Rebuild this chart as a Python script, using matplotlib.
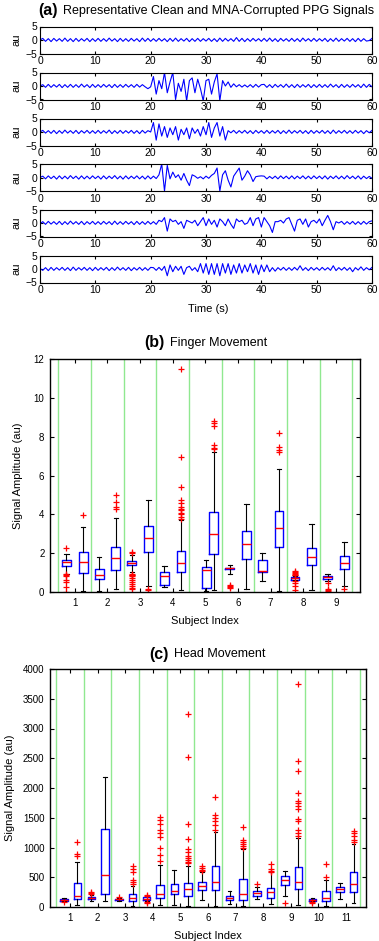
import numpy as np
import matplotlib
matplotlib.use("Agg")
from matplotlib import pyplot as plt

plt.rcParams["font.family"] = ["Liberation Sans", "DejaVu Sans"]

W, H = 379, 941

# (a) PPG traces, one reading every 0.5 s from 0 to 60 s
time_s = np.arange(0, 60.5, 0.5)

ppg_clean = [0.0,
    0.6, -0.5, 0.5, -0.6, 0.6, -0.4, 0.5, -0.5, 0.7, -0.5, 0.5, -0.6, 0.6, -0.5, 0.5, -0.4, 0.6, -0.6, 0.5, -0.5,
    0.6, -0.5, 0.5, -0.5, 0.7, -0.4, 0.5, -0.6, 0.6, -0.5, 0.5, -0.5, 0.6, -0.4, 0.5, -0.6, 0.7, -0.5, 0.6, -0.5,
    0.5, -0.5, 0.6, -0.4, 0.5, -0.6, 0.6, -0.5, 0.7, -0.5, 0.5, -0.4, 0.6, -0.6, 0.5, -0.5, 0.6, -0.5, 0.5, -0.4,
    0.6, -0.5, 0.5, -0.6, 0.7, -0.5, 0.6, -0.4, 0.5, -0.5, 0.9, -0.5, 0.6, -0.6, 0.5, -0.5, 0.6, -0.4, 0.5, -0.5,
    0.6, -0.5, 0.7, -0.5, 0.5, -0.6, 0.6, -0.4, 0.5, -0.5, 0.6, -0.5, 0.5, -0.6, 0.7, -0.4, 0.5, -0.5, 0.6, -0.5,
    0.5, -0.4, 0.6, -0.6, 0.5, -0.5, 0.7, -0.5, 0.5, -0.4, 0.6, -0.5, 0.5, -0.6, 0.6, -0.5, 0.5, -0.4, -0.2, 0.6]

ppg_mna1 = [0.0,
    0.5, -0.5, 0.6, -0.5, 0.5, -0.4, 0.6, -0.6, 0.5, -0.5, 0.6, -0.5, 0.5, -0.5, 0.7, -0.4, 0.5, -0.6, 0.6, -0.5,
    0.5, -0.5, 0.6, -0.4, 0.5, -0.6, 0.6, -0.5, 0.5, -0.5, 0.6, -0.4, 0.5, -0.5, 0.6, -0.4, 0.5, -0.3, -1.0, -0.3,
    3.5, -3.0, 2.0, -1.0, 5.0, -2.5, 1.5, 5.0, -5.0, 1.0, -2.0, 2.5, -5.5, 2.0, 3.0, -2.5, 2.5, -1.0, -5.5, 2.0,
    2.5, -3.0, 1.5, 4.5, -5.5, 2.0, 0.0, 1.5, -0.5, 0.8, -0.3, 0.5, -0.4, 0.4, -0.4, 0.5, -0.5, 0.6, -0.4, 0.5,
    0.6, -0.5, 0.5, -0.6, 0.6, -0.4, 0.5, -0.5, 0.7, -0.5, 0.5, -0.6, 0.6, -0.5, 0.5, -0.4, 0.6, -0.6, 0.5, -0.5,
    0.6, -0.5, 0.5, -0.5, 0.7, -0.4, 0.5, -0.6, 0.6, -0.5, 0.5, -0.5, 0.6, -0.4, 0.5, -0.6, 0.7, -0.5, 0.6, -0.3]

ppg_mna2 = [0.0,
    0.6, -0.4, 0.5, -0.5, 0.6, -0.6, 0.5, -0.5, 0.7, -0.4, 0.5, -0.5, 0.6, -0.6, 0.5, -0.4, 0.6, -0.5, 0.5, -0.5,
    0.6, -0.5, 0.5, -0.4, 0.7, -0.6, 0.5, -0.5, 0.6, -0.5, 0.5, -0.4, 0.6, -0.5, 0.5, -0.6, 0.6, -0.4, 0.5, 0.0,
    3.5, -3.0, 3.0, -1.5, 2.0, -2.0, 1.5, -1.0, 2.0, -3.0, 1.0, -1.0, 1.5, -2.5, 1.5, -0.5, 1.0, -1.5, 2.0, -1.0,
    3.5, -2.0, 1.5, 3.5, -1.5, 2.0, -3.0, 0.5, -0.3, 0.6, -0.5, 0.5, -0.4, 0.6, -0.5, 0.5, -0.6, 0.6, -0.4, 0.5,
    -0.5, 0.6, -0.5, 0.5, -0.4, 0.6, -0.6, 0.5, -0.5, 0.7, -0.5, 0.5, -0.4, 0.6, -0.5, 0.5, -0.6, 0.6, -0.5, 0.5,
    -0.4, 0.6, -0.5, 0.5, -0.6, 0.7, -0.5, 0.5, -0.4, 0.6, -0.5, 0.5, -0.5, 0.6, -0.4, 0.5, -0.6, 0.5, -0.3, 0.6]

ppg_mna3 = [0.0,
    0.5, -0.5, 0.6, -0.4, 0.5, -0.6, 0.6, -0.5, 0.5, -0.5, 0.7, -0.4, 0.5, -0.6, 0.6, -0.5, 0.5, -0.5, 0.6, -0.4,
    0.5, -0.6, 0.6, -0.5, 0.5, -0.4, 0.7, -0.5, 0.5, -0.6, 0.6, -0.5, 0.5, -0.4, 0.6, -0.5, 0.5, -0.6, 0.6, -0.5,
    0.5, -0.4, 1.0, 5.0, -5.0, 4.5, -0.5, 2.0, 0.0, 1.0, -1.0, 1.5, -1.0, -3.0, 1.0, 0.5, -0.3, 0.3, -0.5, 0.5,
    -0.3, 0.8, 1.5, 3.5, -5.0, 1.0, 2.5, -1.0, -3.5, 0.5, 2.0, 3.5, -1.0, 0.5, 2.5, 1.0, -1.5, 0.3, 0.5, 0.6,
    0.5, -0.5, 0.4, -0.4, 0.5, -0.5, 0.6, -0.4, 0.5, -0.5, 0.6, -0.5, 0.5, -0.4, 0.6, -0.5, 0.5, -0.5, 0.6, -0.4,
    0.5, -0.5, 0.6, -0.6, 0.5, -0.4, 0.6, -0.5, 0.5, -0.5, 0.7, -0.4, 0.5, -0.5, 0.6, -0.6, 0.5, -0.4, 0.4, -0.3]

ppg_mna4 = [-0.3,
    0.5, -0.5, 0.6, -0.4, 0.5, -0.5, 0.6, -0.6, 0.5, -0.5, 0.7, -0.4, 0.5, -0.5, 0.6, -0.6, 0.5, -0.4, 0.6, -0.5,
    0.5, -0.5, 0.6, -0.4, 0.5, -0.6, 0.7, -0.5, 0.5, -0.5, 0.6, -0.4, 0.5, -0.6, 0.6, -0.5, 0.5, -0.5, 0.6, -0.4,
    0.5, -0.5, 1.0, 0.5, 2.0, -3.0, 1.5, 0.5, 1.0, -0.5, 0.5, -2.0, 1.0, 0.5, 0.0, 1.0, -1.0, 0.5, 2.0, -1.0,
    1.5, -0.5, 1.0, -1.5, 1.5, 0.5, -1.0, 1.5, -0.5, -2.0, 1.5, 0.5, 1.0, -0.5, 0.0, 2.0, -1.0, 1.5, 2.0, -1.5,
    2.0, 0.5, -1.0, -3.5, 0.5, 0.5, 1.0, 0.0, 1.5, 2.0, -0.5, -3.0, 1.0, 1.5, -0.5, 1.5, -1.5, 0.5, 1.0, 0.0,
    1.5, -1.0, 1.0, 2.8, 0.5, -2.5, 0.5, 0.0, 0.6, -0.5, 0.5, -0.4, 0.6, -0.5, 0.5, -0.5, 0.6, -0.4, 0.5, 0.8]

ppg_mna5 = [0.2,
    -0.5, 0.5, -0.6, 0.6, -0.5, 0.5, -0.4, 0.6, -0.5, 0.5, -0.6, 0.7, -0.5, 0.5, -0.4, 0.6, -0.5, 0.5, -0.6, 0.6,
    -0.5, 0.5, -0.4, 0.6, -0.6, 0.5, -0.5, 0.7, -0.4, 0.5, -0.5, 0.6, -0.6, 0.5, -0.4, 0.6, -0.5, 0.5, -0.5, 0.6,
    0.5, -0.5, 0.6, -0.5, 1.0, -2.5, 1.5, -1.0, 1.0, -0.5, 1.0, -2.0, 0.5, 1.0, -0.5, 0.5, -1.0, 2.0, -1.5, 2.0,
    -2.0, 2.0, -2.0, 2.0, -2.5, 2.0, -1.5, 2.0, -2.0, 1.5, -1.5, 2.0, -1.5, 1.5, -1.0, 2.0, -1.5, 1.5, -2.0, 1.5,
    -1.0, 1.5, -1.0, 0.5, -0.8, 0.5, -0.4, 0.6, -0.5, 0.5, -0.5, 0.6, -0.4, 1.2, -0.5, 0.5, -0.6, 0.6, -0.4, 0.5,
    -0.5, 0.6, -0.4, 0.5, -0.5, 1.2, -0.6, 0.5, -0.4, 0.6, -0.5, 0.5, -1.0, 0.5, -0.4, 0.8, -0.5, 0.5, -0.3, 0.6]

ppg_traces = [ppg_clean, ppg_mna1, ppg_mna2, ppg_mna3, ppg_mna4, ppg_mna5]

# (b) finger movement, two boxes per subject (A, B)
finger_subjects = list(range(1, 10))
finger_lo = [0.95, 0.05, 0.03, 0.15, 1.05, 0.3, 0.25, 0.1, 0.03, 0.1,
             0.95, 0.15, 0.55, 0.05, 0.6, 0.1, 0.55, 0.3]
finger_q1 = [1.36, 0.97, 0.67, 1.13, 1.38, 2.08, 0.35, 1.02, 0.23, 1.97,
             1.17, 1.7, 1.05, 2.3, 0.63, 1.38, 0.68, 1.2]
finger_med = [1.53, 1.55, 0.86, 1.75, 1.47, 2.78, 0.83, 1.5, 1.13, 3.0,
              1.22, 2.45, 1.08, 3.3, 0.7, 1.82, 0.75, 1.5]
finger_q3 = [1.67, 2.05, 1.17, 2.3, 1.58, 3.38, 1.05, 2.1, 1.28, 4.1,
             1.25, 3.12, 1.63, 4.15, 0.77, 2.27, 0.8, 1.83]
finger_hi = [1.96, 3.33, 1.78, 3.82, 1.92, 4.75, 1.35, 3.7, 1.67, 7.2,
             1.4, 4.55, 2.03, 6.33, 0.8, 3.5, 0.93, 2.55]
finger_fliers = [
    [2.25, 0.93, 0.85, 0.8, 0.6, 0.5, 0.25, 0.0], [3.97],
    [], [4.25, 4.4, 4.65, 5.0],
    [2.0, 2.08, 0.95, 0.9, 0.85, 0.8, 0.7, 0.6, 0.5, 0.4, 0.3, 0.2, 0.15], [0.1, 0.15],
    [], [3.75, 3.85, 4.0, 4.05, 4.2, 4.3, 4.4, 4.6, 4.75, 5.4, 6.95, 11.5],
    [], [7.35, 7.43, 7.57, 8.53, 8.69, 8.79],
    [0.2, 0.25, 0.3, 0.35], [],
    [], [7.23, 7.31, 7.48, 8.19],
    [0.85, 0.9, 0.95, 1.0, 1.05, 1.1, 0.55, 0.45, 0.3, 0.1], [],
    [0.45, 0.15, 0.1, 0.05], [0.15]]

# (c) head movement
head_subjects = list(range(1, 12))
head_lo = [95, 28, 100, 100, 100, 17, 100, 39, 28, 11, 122, 11,
           56, 11, 128, 44, 178, 28, 95, 11, 139, 67]
head_q1 = [105, 128, 128, 223, 115, 100, 118, 145, 211, 178, 278, 294,
           111, 122, 189, 156, 372, 306, 100, 106, 250, 250]
head_med = [125, 179, 150, 531, 128, 156, 140, 223, 261, 300, 361, 417,
            150, 222, 233, 250, 456, 428, 122, 156, 300, 389]
head_q3 = [140, 402, 175, 1313, 140, 212, 165, 363, 389, 400, 417, 694,
           178, 472, 267, 322, 528, 667, 139, 261, 333, 583]
head_hi = [150, 754, 195, 2179, 155, 346, 180, 698, 622, 694, 583, 1267,
           261, 972, 333, 583, 600, 1156, 145, 456, 400, 1067]
head_fliers = [
    [80], [855, 883, 1100],
    [215, 230, 250], [],
    [175], [390, 428, 456, 595, 640, 690],
    [75, 90, 190, 205], [780, 880, 1000, 1180, 1250, 1300, 1400, 1470, 1510],
    [], [740, 760, 790, 820, 860, 920, 980, 1150, 1400, 2520, 3240],
    [600, 630, 660, 690], [1300, 1380, 1450, 1500, 1550, 1850],
    [], [1000, 1020, 1060, 1100, 1130, 1340],
    [389], [590, 610, 640, 720],
    [72], [1200, 1250, 1300, 1450, 1480, 1650, 1700, 1750, 1780, 1920, 2290, 2450, 3750],
    [70, 90], [500, 730],
    [], [1100, 1120, 1200, 1250, 1280]]


def px_rect(left, top, right, bottom):
    return [left / W, 1 - bottom / H, (right - left) / W, (bottom - top) / H]


def panel_title(x_tag, x_text, y, tag, text):
    fig.text(x_tag / W, 1 - y / H, tag, fontsize=11.5, fontweight="bold", va="center")
    fig.text(x_text / W, 1 - y / H, text, fontsize=9, va="center")


def box_panel(ax, subjects, offsets, lo, q1, med, q3, hi, fliers, xlim, ylim, yticks):
    stats = [dict(whislo=a, q1=b, med=c, q3=d, whishi=e, fliers=f)
             for a, b, c, d, e, f in zip(lo, q1, med, q3, hi, fliers)]
    pos = [s + o for s in subjects for o in offsets[s]]
    for k in range(len(subjects) + 1):
        ax.axvline(subjects[0] - 0.5 + k, color="#90e890", lw=1.0, zorder=0)
    ax.bxp(stats, positions=pos, widths=0.27, manage_ticks=False,
           boxprops=dict(color="blue", lw=1.0),
           medianprops=dict(color="red", lw=1.0),
           whiskerprops=dict(color="black", lw=0.8),
           capprops=dict(color="black", lw=0.8),
           flierprops=dict(marker="+", markeredgecolor="red", markersize=5,
                           markeredgewidth=0.9, linestyle="none"))
    ax.set_xlim(*xlim)
    ax.set_ylim(*ylim)
    ax.set_yticks(yticks)
    ax.set_xticks(subjects)
    ax.tick_params(direction="in", top=True, right=True, length=3, labelsize=7, pad=4)
    for sp in ax.spines.values():
        sp.set_linewidth(1.0)


fig = plt.figure(figsize=(W / 100, H / 100), dpi=100)

# ---- (a)
panel_title(38, 63, 11, "(a)", "Representative Clean and MNA-Corrupted PPG Signals")
tops = [26.5, 72.5, 118.5, 164, 209.5, 255.5]
for top, trace in zip(tops, ppg_traces):
    ax = fig.add_axes(px_rect(40, top, 372, top + 27))
    ax.plot(time_s, trace, color="blue", lw=0.8)
    ax.set_xlim(0, 60)
    ax.set_ylim(-5, 5)
    ax.set_xticks(range(0, 61, 10))
    ax.set_yticks([-5, 0, 5])
    ax.tick_params(direction="in", top=True, right=True, length=2.5, labelsize=7.5, pad=2)
    ax.set_ylabel("au", fontsize=8, labelpad=3)
fig.text(208 / W, 1 - 309 / H, "Time (s)", fontsize=8, ha="center", va="center")

# ---- (b)
panel_title(144, 170, 343, "(b)", "Finger Movement")
ax = fig.add_axes(px_rect(50, 359, 360.5, 592))
off_b = {s: (-0.25, 0.26) for s in finger_subjects}
off_b[5] = (0.03, 0.26)
box_panel(ax, finger_subjects, off_b, finger_lo, finger_q1, finger_med, finger_q3,
          finger_hi, finger_fliers, (0.245, 9.755), (0, 12), range(0, 13, 2))
ax.set_ylabel("Signal Amplitude (au)", fontsize=8, labelpad=8)
ax.set_xlabel("Subject Index", fontsize=8, labelpad=6)

# ---- (c)
panel_title(149, 174, 654, "(c)", "Head Movement")
ax = fig.add_axes(px_rect(50, 669, 366, 907))
off_c = {s: (-0.22, 0.27) for s in head_subjects}
box_panel(ax, head_subjects, off_c, head_lo, head_q1, head_med, head_q3,
          head_hi, head_fliers, (0.28, 11.72), (0, 4000), range(0, 4001, 500))
ax.set_ylabel("Signal Amplitude (au)", fontsize=8, labelpad=6)
ax.set_xlabel("Subject Index", fontsize=8, labelpad=6)

fig.savefig("out.png", dpi=100)
